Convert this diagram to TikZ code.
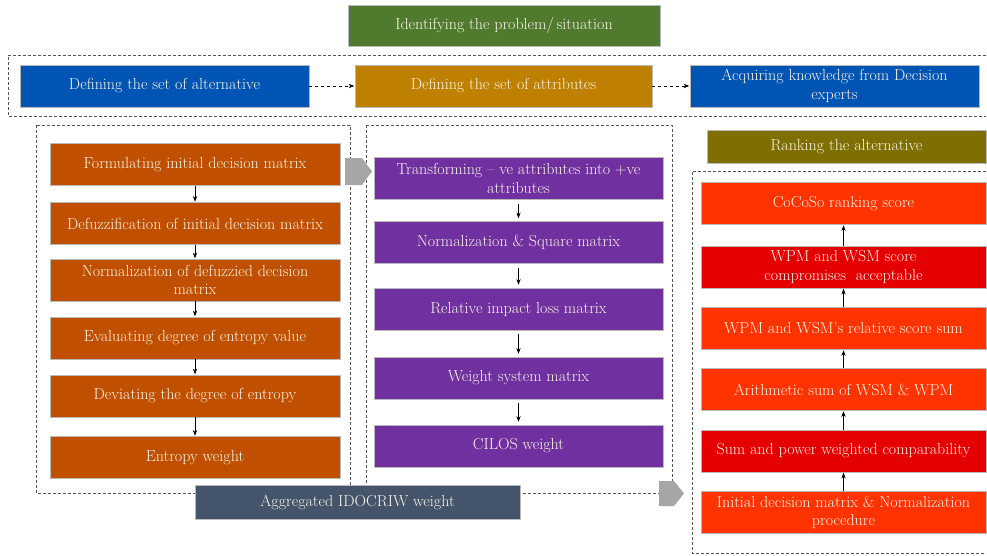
\documentclass[tikz,border=0pt]{standalone}
\usetikzlibrary{arrows.meta}
\definecolor{cgreen}{RGB}{80,122,46}
\definecolor{cblue}{RGB}{0,84,180}
\definecolor{cgold}{RGB}{191,128,0}
\definecolor{corange}{RGB}{192,80,0}
\definecolor{cpurple}{RGB}{112,48,160}
\definecolor{cslate}{RGB}{68,84,106}
\definecolor{colive}{RGB}{127,111,0}
\definecolor{cred}{RGB}{255,51,0}
\definecolor{cdeep}{RGB}{228,0,0}
\definecolor{cblock}{RGB}{166,166,166}
\definecolor{ctext}{RGB}{248,244,232}
\begin{document}
\begin{tikzpicture}[>=Stealth, x=1pt, y=-1pt, line join=round,
    box/.style={inner sep=1pt, align=center, text=ctext, draw=gray!55, line width=0.5pt,
      font=\fontsize{16}{18.5}\selectfont, minimum height=42},
    dashbox/.style={draw=gray!65!black, line width=0.7pt, dash pattern=on 3pt off 2pt},
    link/.style={->, line width=0.6pt, shorten >=0.5pt}]
    \useasboundingbox (0,0) rectangle (987,555);
    \def\wl{290} \def\wm{289} \def\wr{285}
    % top rows
    \node[box, fill=cgreen, minimum width=312, minimum height=41] (prob) at (504,25.5) {Identifying the problem/\,situation};
    \draw[dashbox] (986,55)--(8,55)--(8,116)--(986,116);
    \node[box, fill=cblue, minimum width=289] (alt) at (164.5,86) {Defining the set of alternative};
    \node[box, fill=cgold, minimum width=297] (attr) at (503.5,86) {Defining the set of attributes};
    \node[box, fill=cblue, minimum width=289] (know) at (834.5,86) {Acquiring knowledge from Decision\\experts};
    \draw[link, dashed] (alt) -- (attr);
    \draw[link, dashed] (attr) -- (know);
    % entropy
    \draw[dashbox] (36,125) rectangle (350,493);
    \node[box, fill=corange, minimum width=\wl] (o1) at (195,164.5) {Formulating initial decision matrix};
    \node[box, fill=corange, minimum width=\wl] (o2) at (195,223.5) {Defuzzification of initial decision matrix};
    \node[box, fill=corange, minimum width=\wl] (o3) at (195,280) {Normalization of defuzzied decision\\matrix};
    \node[box, fill=corange, minimum width=\wl] (o4) at (195,338) {Evaluating degree of entropy value};
    \node[box, fill=corange, minimum width=\wl] (o5) at (195,396) {Deviating the degree of entropy};
    \node[box, fill=corange, minimum width=\wl] (o6) at (195,457.5) {Entropy weight};
    \foreach \i/\j in {1/2,2/3,3/4,4/5,5/6}
        \draw[link] (o\i) -- (o\j);
    % cilos
    \draw[dashbox] (366,125) rectangle (672,493);
    \node[box, fill=cpurple, minimum width=\wm] (p1) at (518.5,178.5) {Transforming -- ve attributes into +ve\\attributes};
    \node[box, fill=cpurple, minimum width=\wm] (p2) at (518.5,242.5) {Normalization \& Square matrix};
    \node[box, fill=cpurple, minimum width=\wm] (p3) at (518.5,309) {Relative impact loss matrix};
    \node[box, fill=cpurple, minimum width=\wm] (p4) at (518.5,378) {Weight system matrix};
    \node[box, fill=cpurple, minimum width=\wm] (p5) at (518.5,446) {CILOS weight};
    \foreach \i/\j in {1/2,2/3,3/4,4/5}
        \draw[link, shorten <=4pt, shorten >=3pt] (p\i) -- (p\j);
    \fill[cblock] (345,158)--(362,158)--(372,171.5)--(362,185)--(345,185)--cycle;
    \node[box, fill=cslate, minimum width=325, minimum height=34] (agg) at (357.5,502) {Aggregated IDOCRIW weight};
    \fill[cblock] (659,481)--(674,481)--(684,493.5)--(674,506)--(659,506)--cycle;
    % cocoso
    \node[box, fill=colive, minimum width=279, minimum height=33] (rank) at (846.5,146.5) {Ranking the alternative};
    \draw[dashbox] (986,171)--(692,171)--(692,553)--(986,553);
    \node[box, fill=cred, minimum width=\wr] (r1) at (843.5,203.5) {CoCoSo ranking score};
    \node[box, fill=cdeep, minimum width=\wr] (r2) at (843.5,267) {WPM and WSM score\\compromises\ \ acceptable};
    \node[box, fill=cred, minimum width=\wr] (r3) at (843.5,328.5) {WPM and WSM's relative score sum};
    \node[box, fill=cred, minimum width=\wr] (r4) at (843.5,389.5) {Arithmetic sum of WSM \& WPM};
    \node[box, fill=cdeep, minimum width=\wr] (r5) at (843.5,451) {Sum and power weighted comparability};
    \node[box, fill=cred, minimum width=\wr] (r6) at (843.5,512.5) {Initial decision matrix \& Normalization\\procedure};
    \foreach \i/\j in {6/5,5/4,4/3,3/2,2/1}
        \draw[link] (r\i) -- (r\j);
\end{tikzpicture}
\end{document}
